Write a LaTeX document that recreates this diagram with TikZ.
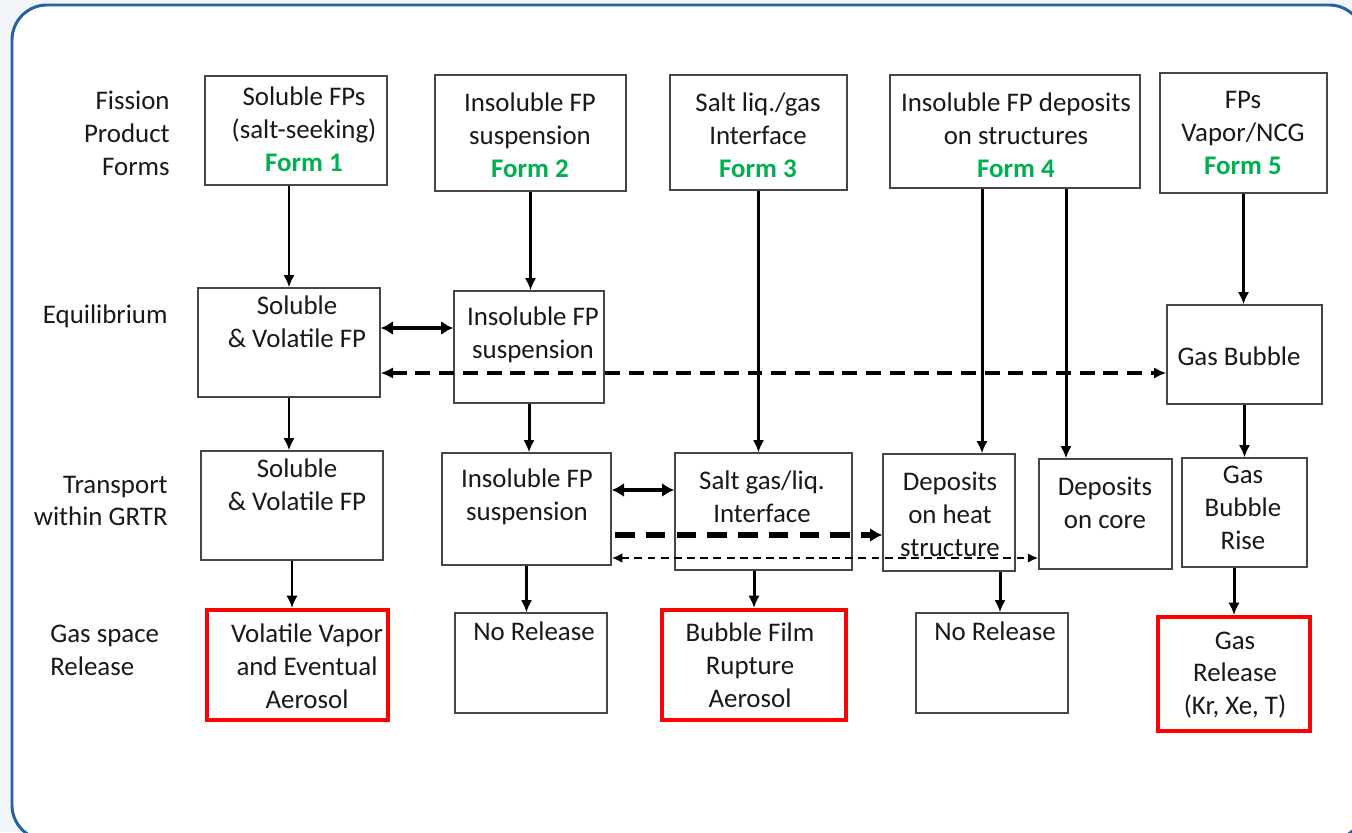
\documentclass[tikz,border=0pt]{standalone}
\usepackage{fontspec}
\setmainfont{Carlito}
\usetikzlibrary{arrows.meta,fit}
\definecolor{formGreen}{RGB}{0,176,80}
\definecolor{frameBlue}{RGB}{38,98,163}
\definecolor{outerGray}{RGB}{243,246,249}
\definecolor{boxGray}{RGB}{70,70,70}
\newcommand{\formtag}[1]{\textcolor{formGreen}{\textbf{#1}}}

\begin{document}
\begin{tikzpicture}[x=0.02cm, y=-0.02cm,
    fpbox/.style={draw=boxGray, line width=0.8pt, inner sep=0pt},
    relbox/.style={draw=red, line width=2.3pt, inner sep=0pt},
    txt/.style={font=\fontsize{15.3}{18.7}\selectfont, align=center, inner sep=0pt, text=black!90},
    rowlab/.style={txt, align=right, anchor=east},
    arr/.style={line width=1.7pt, -{Latex[length=7pt,width=6.5pt]}},
    dblarr/.style={line width=2.6pt, {Latex[length=7pt,width=8pt]}-{Latex[length=7pt,width=8pt]}},
    dasharr/.style={line width=1.8pt, dash pattern=on 8.5pt off 5pt, {Latex[length=7pt,width=6.5pt]}-{Latex[length=7pt,width=6.5pt]}},
    bigdash/.style={line width=2.9pt, dash pattern=on 11pt off 6.5pt, -{Latex[length=7pt,width=8pt]}},
    thindash/.style={line width=1.2pt, dash pattern=on 4.5pt off 3pt, {Latex[length=6pt,width=5.5pt]}-{Latex[length=6pt,width=5.5pt]}}]
  \useasboundingbox (0,0) rectangle (1352,832);
  \fill[outerGray] (0,0) rectangle (1352,832);
  \begin{scope}
    \clip (0,0) rectangle (1352,832);
    \draw[frameBlue, line width=1.7pt, fill=white, rounded corners=0.7cm] (12,5) rectangle (1364,840);
  \end{scope}

  % row labels
  \node[rowlab] (lform) at (170,133) {Fission\\Product\\Forms};
  \node[rowlab] (leq) at (168,316) {Equilibrium};
  \node[rowlab] (ltr) at (168,501) {Transport\\within GRTR};
  \node[txt, align=left, anchor=west] (lrel) at (50,650) {Gas space\\Release};

  % row 1: fission product forms
  \node[fpbox, fit={(205,76) (387,185)}] (b1) {};
  \node[fpbox, fit={(435,75) (626,191)}] (b2) {};
  \node[fpbox, fit={(670,75) (847,190)}] (b3) {};
  \node[fpbox, fit={(890,75) (1140,188)}] (b4) {};
  \node[fpbox, fit={(1160,73) (1327,193)}] (b5) {};
  \node[txt] (b1t) at (304,129) {Soluble FPs\\(salt-seeking)\\\formtag{Form 1}};
  \node[txt] (b2t) at (530,135) {Insoluble FP\\suspension\\\formtag{Form 2}};
  \node[txt] (b3t) at (758,135) {Salt liq./gas\\Interface\\\formtag{Form 3}};
  \node[txt] (b4t) at (1016,135) {Insoluble FP deposits\\on structures\\\formtag{Form 4}};
  \node[txt] (b5t) at (1243,133) {FPs\\Vapor/NCG\\\formtag{Form 5}};

  % row 2: equilibrium
  \node[fpbox, fit={(198,288) (380,397)}] (e1) {};
  \node[fpbox, fit={(454,291) (604,403)}] (e2) {};
  \node[fpbox, fit={(1167,305) (1322,404)}] (e5) {};
  \node[txt] (e1t) at (297,322) {Soluble\\\& Volatile FP};
  \node[txt] (e2t) at (533,335) {Insoluble FP\\suspension};
  \node[txt] (e5t) at (1239,356) {Gas Bubble};

  % row 3: transport
  \node[fpbox, fit={(201,451) (383,560)}] (t1) {};
  \node[fpbox, fit={(442,453) (611,565)}] (t2) {};
  \node[fpbox, fit={(675,453) (852,570)}] (t3) {};
  \node[fpbox, fit={(883,454) (1015,571)}] (t4) {};
  \node[fpbox, fit={(1039,459) (1172,569)}] (t5) {};
  \node[fpbox, fit={(1182,458) (1307,567)}] (t6) {};
  \node[txt] (t1t) at (297,485) {Soluble\\\& Volatile FP};
  \node[txt] (t2t) at (527,497) {Insoluble FP\\suspension};
  \node[txt] (t3t) at (762,497) {Salt gas/liq.\\Interface};
  \node[txt] (t4t) at (950,514) {Deposits\\on heat\\structure};
  \node[txt] (t5t) at (1105,503) {Deposits\\on core};
  \node[txt] (t6t) at (1243,508) {Gas\\Bubble\\Rise};

  % row 4: gas space release
  \node[relbox, fit={(207,610) (388,720)}] (r1) {};
  \node[fpbox, fit={(455,613) (607,713)}] (r2) {};
  \node[relbox, fit={(662,610) (846,720)}] (r3) {};
  \node[fpbox, fit={(916,613) (1068,713)}] (r4) {};
  \node[relbox, fit={(1158,617) (1310,731)}] (r5) {};
  \node[txt] (r1t) at (307,666) {Volatile Vapor\\and Eventual\\Aerosol};
  \node[txt] (r2t) at (534,631) {No Release};
  \node[txt] (r3t) at (750,665) {Bubble Film\\Rupture\\Aerosol};
  \node[txt] (r4t) at (995,631) {No Release};
  \node[txt] (r5t) at (1235,675) {Gas\\Release\\(Kr, Xe, T)};

  % columns and rows of the off-centre connectors
  \coordinate (c4a) at (982,0);
  \coordinate (c4b) at (1066,0);
  \coordinate (c4r) at (1000,0);
  \coordinate (h1) at (0,328);
  \coordinate (h2) at (0,373);
  \coordinate (h3) at (0,490);
  \coordinate (h4) at (0,535);
  \coordinate (h5) at (0,558);

  % forms -> equilibrium / transport
  \draw[arr] (b1.south -| e1.north) -- (e1.north);
  \draw[arr] (b2.south) -- (b2.south |- e2.north);
  \draw[arr] (b3.south) -- (b3.south |- t3.north);
  \draw[arr] (b4.south -| c4a) -- (t4.north -| c4a);
  \draw[arr] (b4.south -| c4b) -- (t5.north -| c4b);
  \draw[arr] (b5.south) -- (b5.south |- e5.north);

  % equilibrium exchanges
  \draw[dblarr] (e1.east |- h1) -- (e2.west |- h1);
  \draw[dasharr] (e1.east |- h2) -- (e5.west |- h2);

  % equilibrium -> transport
  \draw[arr] (e1.south) -- (e1.south |- t1.north);
  \draw[arr] (e2.south) -- (e2.south |- t2.north);
  \draw[arr] (e5.south) -- (e5.south |- t6.north);

  % transport exchanges
  \draw[dblarr] (t2.east |- h3) -- (t3.west |- h3);
  \draw[bigdash] ([xshift=2pt]t2.east |- h4) -- (t4.west |- h4);
  \draw[thindash] (t2.east |- h5) -- (t5.west |- h5);

  % transport -> release
  \draw[arr] (t1.south) -- (t1.south |- r1.north);
  \draw[arr] (t2.south) -- (t2.south |- r2.north);
  \draw[arr] (t3.south -| r3.north) -- (r3.north);
  \draw[arr] (t4.south -| c4r) -- (r4.north -| c4r);
  \draw[arr] (t6.south -| r5.north) -- (r5.north);
\end{tikzpicture}
\end{document}
